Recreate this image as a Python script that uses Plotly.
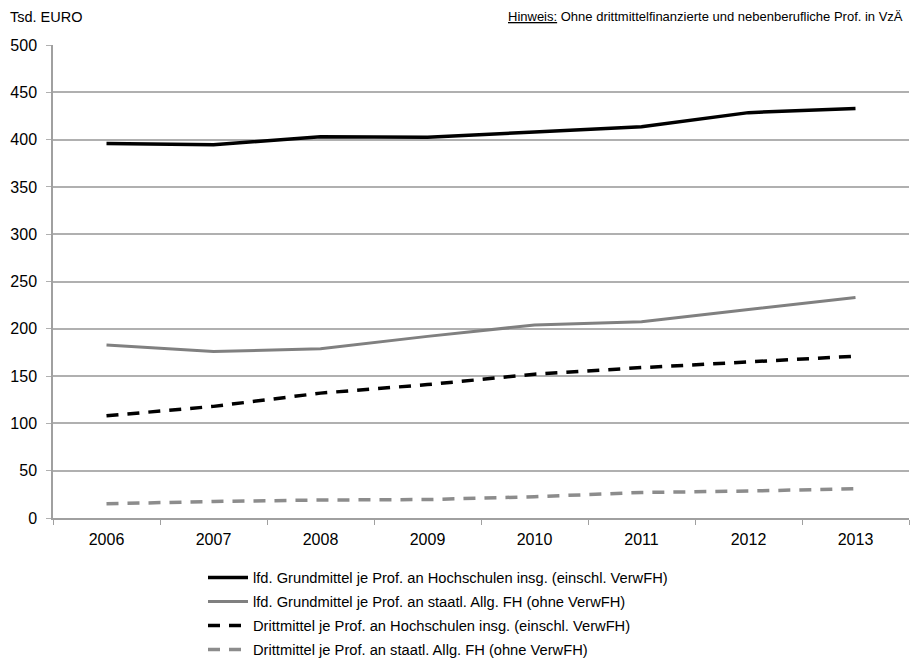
import plotly.graph_objects as go

years = ["2006", "2007", "2008", "2009", "2010", "2011", "2012", "2013"]
grund_hs = [396, 394.5, 403, 402.5, 408, 413.5, 428.5, 433]
grund_fh = [183, 176, 179, 192, 204, 207.5, 220.5, 233]
dritt_hs = [108, 118, 132, 141, 152, 159, 165, 171]
dritt_fh = [15, 17.5, 19, 19.5, 22.5, 27, 28.5, 31]

names = [
    "lfd. Grundmittel je Prof. an Hochschulen insg. (einschl. VerwFH)",
    "lfd. Grundmittel je Prof. an staatl. Allg. FH (ohne VerwFH)",
    "Drittmittel je Prof. an Hochschulen insg. (einschl. VerwFH)",
    "Drittmittel je Prof. an staatl. Allg. FH (ohne VerwFH)",
]

FONT = "Liberation Sans, Arial, sans-serif"
ML, MR, MT, MB = 53, 1, 45, 154
W, H = 910, 672
PW, PH = W - ML - MR, H - MT - MB


def px_x(x):
    return (x - ML) / PW


def px_y(y):
    return (H - MB - y) / PH


fig = go.Figure()
fig.add_trace(go.Scatter(x=years, y=grund_hs, name=names[0], mode="lines",
                         legend="legend",
                         line=dict(color="#000000", width=3.5)))
fig.add_trace(go.Scatter(x=years, y=grund_fh, name=names[1], mode="lines",
                         legend="legend2",
                         line=dict(color="#808080", width=3)))
fig.add_trace(go.Scatter(x=years, y=dritt_hs, name=names[2], mode="lines",
                         legend="legend3",
                         line=dict(color="#000000", width=3.5, dash="12px,9px")))
fig.add_trace(go.Scatter(x=years, y=dritt_fh, name=names[3], mode="lines",
                         legend="legend4",
                         line=dict(color="#8c8c8c", width=3.5, dash="12px,9px")))

legend_rows = [578, 602, 626, 650]
legend_common = dict(xanchor="left", yanchor="middle", orientation="v",
                     font=dict(size=14.7, color="#000000"), itemwidth=40,
                     bgcolor="rgba(0,0,0,0)")
LX = 203

fig.update_layout(
    width=W, height=H,
    margin=dict(l=ML, r=MR, t=MT, b=MB),
    paper_bgcolor="white", plot_bgcolor="white",
    font=dict(family=FONT, size=14, color="#000000"),
    showlegend=True,
    legend=dict(x=px_x(LX), y=px_y(legend_rows[0]), **legend_common),
    legend2=dict(x=px_x(LX), y=px_y(legend_rows[1]), **legend_common),
    legend3=dict(x=px_x(LX), y=px_y(legend_rows[2]), **legend_common),
    legend4=dict(x=px_x(LX), y=px_y(legend_rows[3]), **legend_common),
    xaxis=dict(
        type="category", showgrid=False, showline=True, linecolor="#a0a0a0",
        linewidth=1.5, ticks="outside", tickson="boundaries", ticklen=5,
        tickcolor="#a0a0a0", tickwidth=1, tickfont=dict(size=16),
        ticklabelstandoff=6, range=[-0.5, 7.5],
    ),
    yaxis=dict(
        range=[0, 500], dtick=50, showgrid=True, gridcolor="#b0b0b0",
        gridwidth=1.5, showline=True, linecolor="#a0a0a0", linewidth=1.5,
        ticks="outside", ticklen=5, tickcolor="#b0b0b0", zeroline=False,
        tickfont=dict(size=16), ticklabelstandoff=6,
    ),
    annotations=[
        dict(text="Tsd. EURO", x=px_x(8), y=px_y(17), xref="paper",
             yref="paper", showarrow=False, xanchor="left",
             yanchor="middle", font=dict(size=14.5)),
        dict(text="<u>Hinweis:</u> Ohne drittmittelfinanzierte und nebenberufliche Prof. in VzÄ",
             x=px_x(905), y=px_y(17), xref="paper", yref="paper",
             showarrow=False, xanchor="right", yanchor="middle",
             font=dict(size=13)),
    ],
)

fig.write_html("out.html")
